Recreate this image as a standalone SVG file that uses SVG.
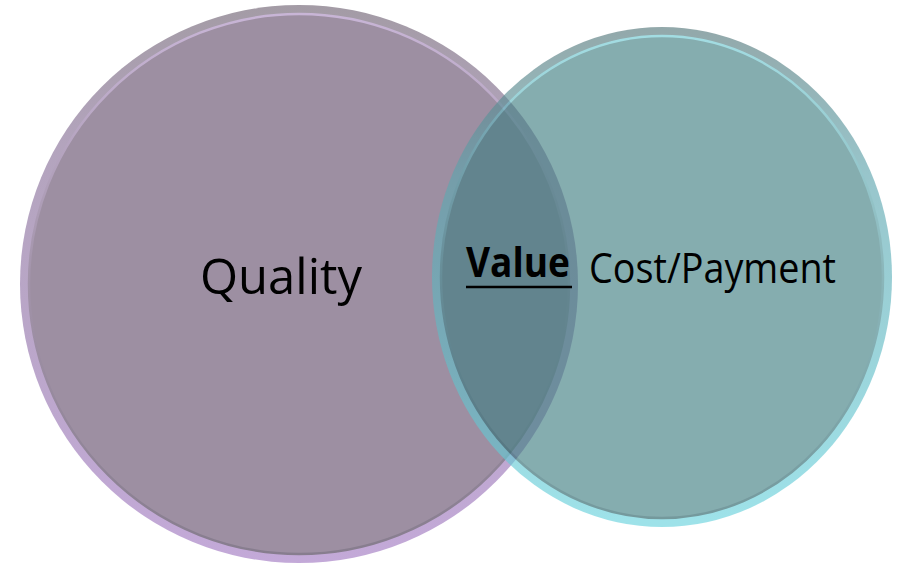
<svg xmlns="http://www.w3.org/2000/svg" width="898" height="563" viewBox="0 0 898 563">
  <defs>
    <linearGradient id="ringP" x1="0" y1="0" x2="0" y2="1">
      <stop offset="0" stop-color="#a39ba5"/>
      <stop offset="0.25" stop-color="#b3a4bd"/>
      <stop offset="1" stop-color="#c3a9d8"/>
    </linearGradient>
    <linearGradient id="edgeP" x1="0" y1="0" x2="0" y2="1">
      <stop offset="0" stop-color="#c8b5d6"/>
      <stop offset="0.5" stop-color="#a293a9"/>
      <stop offset="1" stop-color="#877d8e"/>
    </linearGradient>
    <linearGradient id="ringT" x1="0" y1="0" x2="0" y2="1">
      <stop offset="0" stop-color="#56787b"/>
      <stop offset="0.3" stop-color="#5fa6af"/>
      <stop offset="1" stop-color="#68d3de"/>
    </linearGradient>
    <linearGradient id="edgeT" x1="0" y1="0" x2="0" y2="1">
      <stop offset="0" stop-color="#6fcad3"/>
      <stop offset="0.5" stop-color="#4a8d93"/>
      <stop offset="1" stop-color="#276066"/>
    </linearGradient>
  </defs>
  <style>
    text { font-family: "Open Sans", "Liberation Sans", sans-serif; fill: #000; }
    .label { font-size: 42px; }
    .big { font-size: 49px; }
    .bold { font-size: 42px; font-weight: bold; }
  </style>

  <g id="quality">
    <circle cx="299" cy="284" r="279" fill="url(#ringP)"/>
    <circle cx="299" cy="284" r="270" fill="#9d8fa2" stroke="url(#edgeP)" stroke-width="2.5"/>
    <text class="big" x="200" y="294" textLength="162" lengthAdjust="spacingAndGlyphs">Quality</text>
  </g>

  <g id="cost" opacity="0.64">
    <ellipse cx="662" cy="277" rx="230" ry="250" fill="url(#ringT)"/>
    <ellipse cx="662" cy="277" rx="221" ry="241" fill="#427f83" stroke="url(#edgeT)" stroke-width="2.5"/>
  </g>

  <g id="labels">
    <text class="label" x="589" y="283" textLength="247" lengthAdjust="spacingAndGlyphs">Cost/Payment</text>
    <g id="value">
      <text class="bold" x="466" y="277" textLength="104" lengthAdjust="spacingAndGlyphs">Value</text>
      <line x1="466" y1="287" x2="572" y2="287" stroke="#000" stroke-width="2.5"/>
    </g>
  </g>

  <g id="connectors"/>
</svg>
